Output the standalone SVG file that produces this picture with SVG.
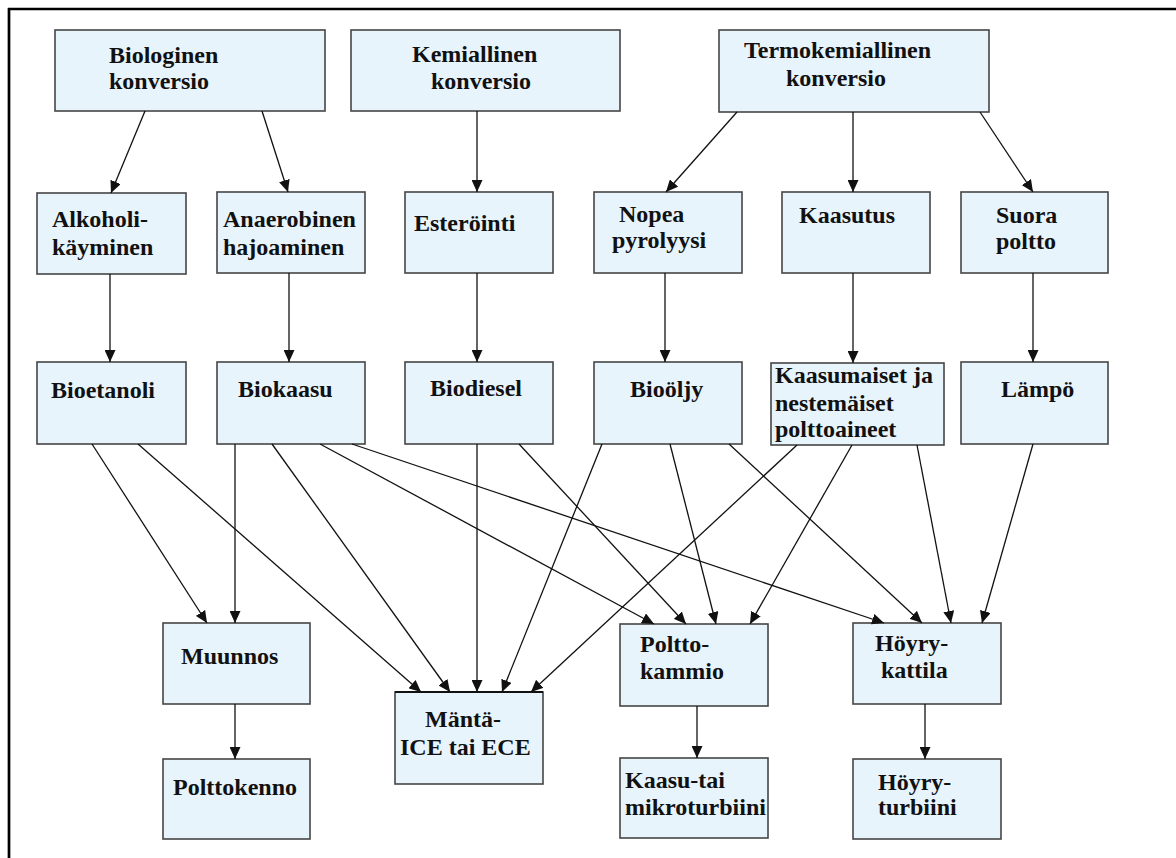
<svg xmlns="http://www.w3.org/2000/svg" width="1176" height="858" viewBox="0 0 1176 858">
<style>
.box{fill:#e8f4fc;stroke:#454545;stroke-width:1.6}
.t{font-family:"Liberation Serif","Times New Roman",serif;font-weight:bold;font-size:24px;fill:#111}
.c line{stroke:#111;stroke-width:1.3;marker-end:url(#ah)}
</style>
<defs>
<marker id="ah" markerUnits="userSpaceOnUse" markerWidth="13" markerHeight="11" refX="12" refY="5.5" orient="auto">
<path d="M0,0 L12,5.5 L0,11 z" fill="#111"/>
</marker>
</defs>
<rect width="1176" height="858" fill="#fff"/>
<line x1="8" y1="9" x2="1176" y2="9" stroke="#000" stroke-width="2.5"/>
<line x1="9" y1="8" x2="9" y2="858" stroke="#000" stroke-width="2.7"/>

<g id="biologinen"><rect class="box" x="55" y="30" width="270" height="81"/><text class="t" x="109" y="63">Biologinen</text><text class="t" x="109" y="89">konversio</text></g>
<g id="kemiallinen"><rect class="box" x="351" y="30" width="269" height="81"/><text class="t" x="412" y="62">Kemiallinen</text><text class="t" x="431" y="89">konversio</text></g>
<g id="termokemiallinen"><rect class="box" x="719" y="30" width="270" height="82"/><text class="t" x="744" y="58">Termokemiallinen</text><text class="t" x="786" y="86">konversio</text></g>

<g id="alkoholi"><rect class="box" x="37" y="193" width="149" height="81"/><text class="t" x="52" y="227">Alkoholi-</text><text class="t" x="52" y="255">käyminen</text></g>
<g id="anaerobinen"><rect class="box" x="217" y="192" width="148" height="81"/><text class="t" x="223" y="227">Anaerobinen</text><text class="t" x="223" y="255">hajoaminen</text></g>
<g id="esterointi"><rect class="box" x="405" y="192" width="148" height="81"/><text class="t" x="414" y="231">Esteröinti</text></g>
<g id="nopea"><rect class="box" x="594" y="192" width="148" height="81"/><text class="t" x="619" y="222">Nopea</text><text class="t" x="612" y="248">pyrolyysi</text></g>
<g id="kaasutus"><rect class="box" x="782" y="192" width="148" height="81"/><text class="t" x="799" y="223">Kaasutus</text></g>
<g id="suora"><rect class="box" x="961" y="192" width="147" height="81"/><text class="t" x="996" y="223">Suora</text><text class="t" x="996" y="249">poltto</text></g>

<g id="bioetanoli"><rect class="box" x="37" y="362" width="149" height="82"/><text class="t" x="51" y="398">Bioetanoli</text></g>
<g id="biokaasu"><rect class="box" x="217" y="362" width="148" height="82"/><text class="t" x="238" y="397">Biokaasu</text></g>
<g id="biodiesel"><rect class="box" x="405" y="362" width="148" height="82"/><text class="t" x="430" y="396">Biodiesel</text></g>
<g id="bioolj"><rect class="box" x="594" y="362" width="148" height="82"/><text class="t" x="630" y="397">Bioöljy</text></g>
<g id="kaasumaiset"><rect class="box" x="771" y="363" width="173" height="82"/><text class="t" x="775" y="383">Kaasumaiset ja</text><text class="t" x="775" y="411">nestemäiset</text><text class="t" x="775" y="437">polttoaineet</text></g>
<g id="lampo"><rect class="box" x="961" y="362" width="147" height="82"/><text class="t" x="1001" y="397">Lämpö</text></g>

<g id="muunnos"><rect class="box" x="163" y="623" width="147" height="81"/><text class="t" x="181" y="664">Muunnos</text></g>
<g id="manta"><rect class="box" x="395" y="692" width="148" height="92"/><line x1="395" y1="692" x2="543" y2="692" stroke="#111" stroke-width="2.2"/><text class="t" x="425" y="727">Mäntä-</text><text class="t" x="400" y="755">ICE tai ECE</text></g>
<g id="polttokammio"><rect class="box" x="620" y="624" width="148" height="82"/><text class="t" x="640" y="652">Poltto-</text><text class="t" x="640" y="679">kammio</text></g>
<g id="hoyrykattila"><rect class="box" x="853" y="623" width="148" height="81"/><text class="t" x="875" y="651">Höyry-</text><text class="t" x="881" y="678">kattila</text></g>

<g id="polttokenno"><rect class="box" x="163" y="759" width="147" height="80"/><text class="t" x="173" y="795">Polttokenno</text></g>
<g id="kaasuturbiini"><rect class="box" x="620" y="758" width="148" height="80"/><text class="t" x="625" y="788">Kaasu-tai</text><text class="t" x="625" y="815">mikroturbiini</text></g>
<g id="hoyryturbiini"><rect class="box" x="853" y="759" width="148" height="80"/><text class="t" x="878" y="790">Höyry-</text><text class="t" x="878" y="815">turbiini</text></g>

<g id="connectors" class="c">
<line x1="145" y1="111" x2="111" y2="193"/>
<line x1="262" y1="111" x2="288" y2="192"/>
<line x1="477" y1="111" x2="477" y2="192"/>
<line x1="737" y1="112" x2="666" y2="192"/>
<line x1="853" y1="112" x2="853" y2="192"/>
<line x1="980" y1="112" x2="1033" y2="192"/>

<line x1="110" y1="274" x2="110" y2="362"/>
<line x1="289" y1="273" x2="289" y2="362"/>
<line x1="477" y1="273" x2="477" y2="362"/>
<line x1="665" y1="273" x2="665" y2="362"/>
<line x1="853" y1="273" x2="853" y2="363"/>
<line x1="1033" y1="273" x2="1033" y2="362"/>

<line x1="92" y1="444" x2="207" y2="623"/>
<line x1="138" y1="444" x2="421" y2="692"/>
<line x1="235" y1="444" x2="235" y2="623"/>
<line x1="272" y1="444" x2="450" y2="692"/>
<line x1="320" y1="444" x2="654" y2="624"/>
<line x1="352" y1="444" x2="884" y2="623"/>
<line x1="477" y1="444" x2="477" y2="692"/>
<line x1="519" y1="444" x2="686" y2="624"/>
<line x1="602" y1="444" x2="502" y2="692"/>
<line x1="670" y1="444" x2="716" y2="624"/>
<line x1="729" y1="444" x2="922" y2="623"/>
<line x1="797" y1="445" x2="531" y2="692"/>
<line x1="852" y1="445" x2="750" y2="624"/>
<line x1="917" y1="445" x2="951" y2="623"/>
<line x1="1033" y1="444" x2="982" y2="623"/>

<line x1="235" y1="704" x2="235" y2="759"/>
<line x1="697" y1="706" x2="697" y2="758"/>
<line x1="925" y1="704" x2="925" y2="759"/>
</g>
</svg>
